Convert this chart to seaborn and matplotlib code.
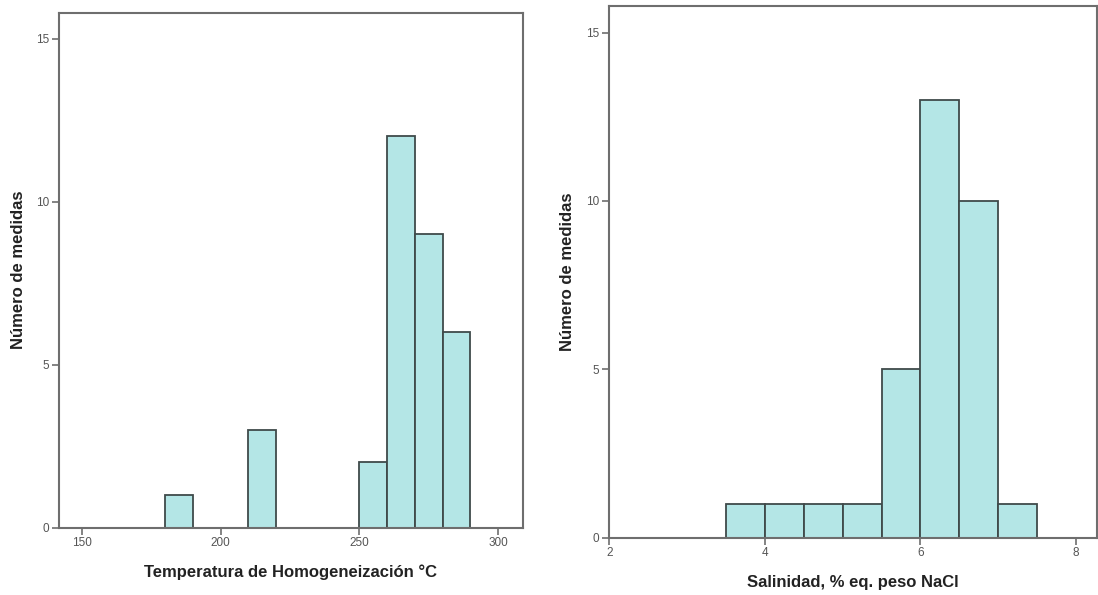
import numpy as np
import pandas as pd
import matplotlib
matplotlib.use("Agg")
import matplotlib.pyplot as plt
import seaborn as sns

# histogram bins (left edges) and counts
temp_edges = [180, 190, 200, 210, 220, 230, 240, 250, 260, 270, 280, 290]
temp_counts = [1, 0, 0, 3, 0, 0, 0, 2, 12, 9, 6]

sal_edges = [3.5, 4.0, 4.5, 5.0, 5.5, 6.0, 6.5, 7.0, 7.5]
sal_counts = [1, 1, 1, 1, 5, 13, 10, 1]

temp_ticks = [150, 200, 250, 300]
sal_ticks = [2, 4, 6, 8]
y_ticks = [0, 5, 10, 15]

BAR_COLOR = "#b4e6e6"
EDGE_COLOR = "#3f4a4a"
SPINE_COLOR = "#6e6e6e"
TEXT_COLOR = "#222222"
TICK_COLOR = "#555555"

sns.set_style("ticks")
plt.rcParams['font.family'] = ['Liberation Sans', 'DejaVu Sans']


def bin_frame(edges, counts):
    edges = np.asarray(edges, dtype=float)
    centers = edges[:-1] + np.diff(edges) / 2
    return pd.DataFrame({"x": centers, "n": counts})


def draw_hist(ax, edges, counts, xlim, xticks, xlabel, ypad):
    df = bin_frame(edges, counts)
    sns.histplot(data=df, x="x", weights="n", bins=edges, ax=ax,
                 color=BAR_COLOR, edgecolor=EDGE_COLOR, linewidth=1.3,
                 alpha=1.0)
    ax.set_xlim(*xlim)
    ax.set_ylim(0, 15.8)
    ax.set_xticks(xticks)
    ax.set_yticks(y_ticks)
    ax.tick_params(axis="both", direction="out", length=5, width=1.2,
                   color=SPINE_COLOR, labelcolor=TICK_COLOR, labelsize=8.5,
                   pad=2)
    for s in ax.spines.values():
        s.set_visible(True)
        s.set_color(SPINE_COLOR)
        s.set_linewidth(1.5)
    ax.set_xlabel(xlabel, fontsize=12, fontweight="bold", color=TEXT_COLOR,
                  labelpad=11)
    ax.set_ylabel("Número de medidas", fontsize=12, fontweight="bold",
                  color=TEXT_COLOR, labelpad=ypad)


fig = plt.figure(figsize=(10.98, 5.95), dpi=100)
ax1 = fig.add_axes([0.0537, 0.1134, 0.4223, 0.8653])
ax2 = fig.add_axes([0.5549, 0.0963, 0.4442, 0.8941])

draw_hist(ax1, temp_edges, temp_counts, (141.8, 308.8), temp_ticks,
          "Temperatura de Homogeneización °C", 7)
draw_hist(ax2, sal_edges, sal_counts, (2.0, 8.27), sal_ticks,
          "Salinidad, % eq. peso NaCl", 8)

fig.savefig("out.png", dpi=100)
